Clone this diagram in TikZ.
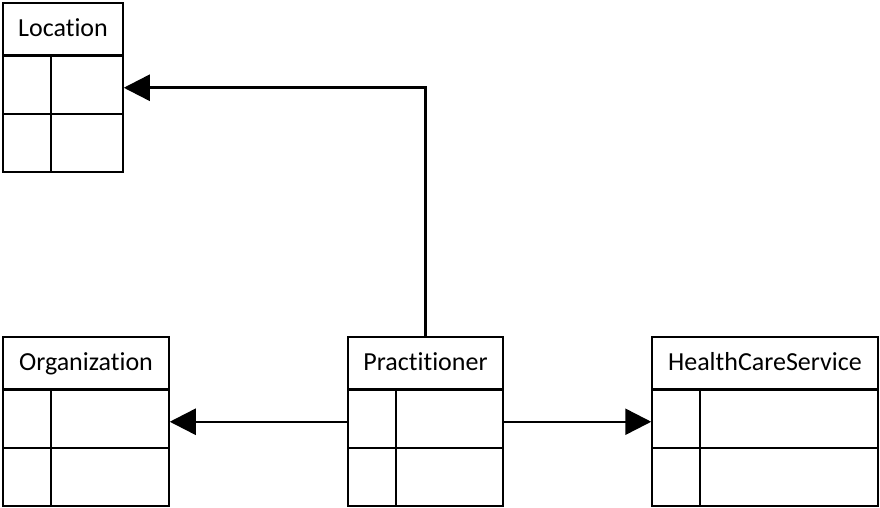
\documentclass[tikz,border=0pt]{standalone}
\usepackage{fontspec}
\setmainfont[Ligatures=NoCommon]{Carlito}
\usetikzlibrary{matrix,positioning,fit,arrows.meta}
\tikzset{
  title/.style={draw,line width=1.5pt,minimum height=52pt,inner sep=0,outer sep=0,text height=19pt,text depth=4pt,font=\fontsize{26}{30}\selectfont},
  fields/.style={matrix of nodes,nodes in empty cells,inner sep=0,outer sep=0,row sep=-1.5pt,column sep=-1.5pt,
    nodes={draw,line width=1.5pt,minimum height=58pt,inner sep=0,outer sep=0},
    column 1/.style={nodes={minimum width=48pt}}},
  whole/.style={inner sep=0,outer sep=0},
  link/.style={line width=2.5pt,-{Triangle[length=26pt,width=26pt]}}
}

\begin{document}
\begin{tikzpicture}[x=1pt,y=1pt]
\useasboundingbox (0,0) rectangle (880,-508);

\node[title,anchor=north west,minimum width=120pt] (loc) at (3,-3) {Location};
\matrix (locf) [fields,below=0pt of loc,column 2/.style={nodes={minimum width=72pt}}]
{
    & \\
    & \\
};
\node[whole,fit=(loc)(locf)] (location) {};

\node[title,anchor=north west,minimum width=166pt] (org) at (3,-337) {Organization};
\matrix (orgf) [fields,below=0pt of org,column 2/.style={nodes={minimum width=118pt}}]
{
    & \\
    & \\
};
\node[whole,fit=(org)(orgf)] (organization) {};

\node[title,anchor=north west,minimum width=155pt] (prac) at (348,-337) {Practitioner};
\matrix (pracf) [fields,below=0pt of prac,column 2/.style={nodes={minimum width=107pt}}]
{
    & \\
    & \\
};
\node[whole,fit=(prac)(pracf)] (practitioner) {};

\node[title,anchor=north west,minimum width=226pt] (hcs) at (652,-337) {HealthCareService};
\matrix (hcsf) [fields,below=0pt of hcs,column 2/.style={nodes={minimum width=178pt}}]
{
    & \\
    & \\
};
\node[whole,fit=(hcs)(hcsf)] (service) {};

\draw[link] (practitioner) -- (organization);
\draw[link] (practitioner) -- (service);
\draw[link] (practitioner.north) |- (location);

\end{tikzpicture}
\end{document}
